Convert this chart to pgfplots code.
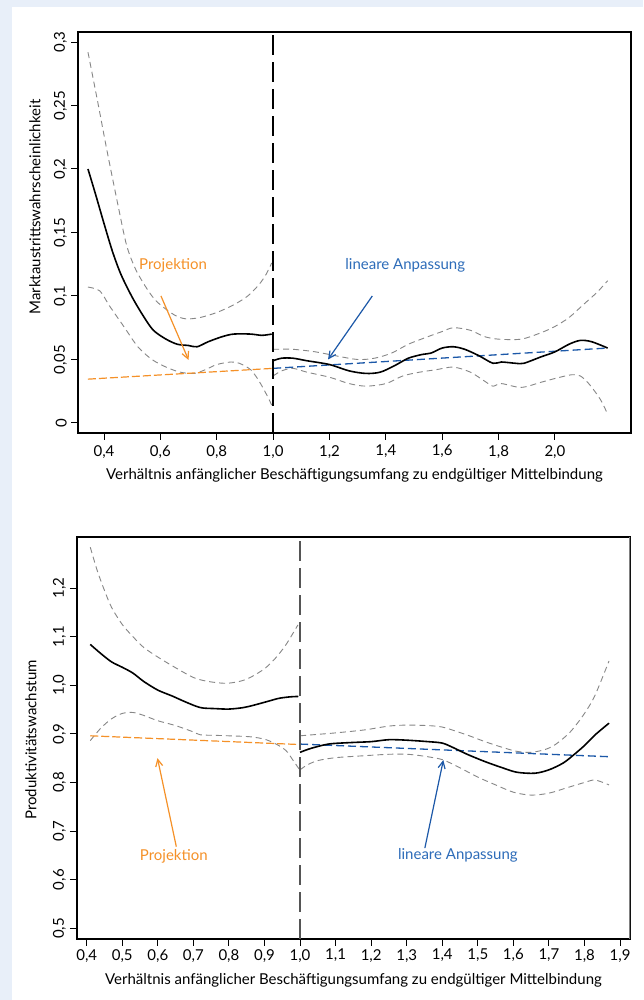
\documentclass[border=0pt]{standalone}
\usepackage{fontspec}
\setmainfont{Lato}
\usepackage{pgfplots}
\pgfplotsset{compat=1.18}
\usetikzlibrary{arrows.meta}
\definecolor{bgblue}{RGB}{232,239,249}
\definecolor{ciGray}{RGB}{135,135,135}
\definecolor{projOrange}{RGB}{245,145,40}
\definecolor{fitBlue}{RGB}{28,88,168}
\definecolor{labBlue}{RGB}{45,108,185}
\definecolor{vGray}{RGB}{85,85,85}
\newcommand{\cf}{\fontsize{15}{18}\selectfont}
\pgfplotsset{
  base/.style={
    scale only axis, width=553pt, height=401pt,
    axis line style={line width=1.4pt},
    tick align=outside, major tick length=7pt,
    tick style={black, line width=1pt},
    xtick pos=bottom, ytick pos=left,
    /pgf/number format/assume math mode=true,
    /pgf/number format/use comma,
    /pgf/number format/1000 sep={},
    tick label style={font=\cf},
    yticklabel style={rotate=90, anchor=south, inner sep=0pt},
    xticklabel style={anchor=north, inner sep=0pt},
    yticklabel shift=4pt, xticklabel shift=5pt,
    no markers,
  },
  mainline/.style={black, line width=1.6pt, smooth},
  ci/.style={ciGray, line width=0.9pt, dash pattern=on 6pt off 4pt, smooth},
  proj/.style={projOrange, line width=1.2pt, dash pattern=on 8pt off 3pt},
  fit/.style={fitBlue, line width=1.3pt, dash pattern=on 8pt off 4pt},
}
\begin{document}
\begin{tikzpicture}[x=1pt,y=1pt]
\path[use as bounding box] (0,0) rectangle (643,1000);
\fill[bgblue] (0,0) rectangle (643,1000);
\fill[white] (12,0) rectangle (643,993);

% ---------------- top panel ----------------
\begin{axis}[base, at={(78pt,567pt)}, anchor=south west,
  xmin=0.3076, xmax=2.27, ymin=-0.0079, ymax=0.3079,
  xtick={0.4,0.6,0.8,1.0,1.2,1.4,1.6,1.8,2.0},
  xticklabel style={/pgf/number format/fixed, /pgf/number format/fixed zerofill, /pgf/number format/precision=1},
  ytick={0,0.05,0.1,0.15,0.2,0.25,0.3},
  yticklabel style={/pgf/number format/fixed, /pgf/number format/precision=2},
  xlabel={Verhältnis anfänglicher Beschäftigungsumfang zu endgültiger Mittelbindung},
  ylabel={Marktaustrittswahrscheinlichkeit},
  every axis x label/.style={at={(axis description cs:0.5,-0.1172)}, anchor=base, font=\cf},
  every axis y label/.style={at={(axis description cs:-0.0778,0.5636)}, rotate=90, anchor=center, font=\cf},
]
% CI left
\addplot[ci] coordinates {(0.343,0.292)(0.38,0.250)(0.41,0.215)(0.45,0.171)(0.48,0.140)(0.51,0.122)(0.54,0.110)(0.57,0.100)(0.60,0.093)(0.65,0.085)(0.69,0.082)(0.74,0.083)(0.80,0.087)(0.86,0.093)(0.91,0.100)(0.95,0.109)(0.975,0.117)(0.995,0.126)};
\addplot[ci] coordinates {(0.343,0.107)(0.385,0.104)(0.42,0.092)(0.47,0.076)(0.52,0.060)(0.57,0.050)(0.62,0.044)(0.67,0.040)(0.72,0.039)(0.76,0.042)(0.80,0.046)(0.85,0.048)(0.88,0.047)(0.92,0.042)(0.95,0.033)(0.98,0.021)(0.995,0.014)};
% CI right
\addplot[ci] coordinates {(1.00,0.058)(1.07,0.058)(1.15,0.056)(1.22,0.053)(1.30,0.050)(1.36,0.051)(1.42,0.055)(1.48,0.062)(1.55,0.068)(1.60,0.072)(1.64,0.075)(1.70,0.073)(1.75,0.068)(1.80,0.066)(1.88,0.066)(1.95,0.071)(2.00,0.076)(2.05,0.083)(2.10,0.093)(2.15,0.103)(2.187,0.112)};
\addplot[ci] coordinates {(1.00,0.037)(1.03,0.041)(1.07,0.043)(1.12,0.040)(1.20,0.036)(1.27,0.031)(1.33,0.029)(1.40,0.031)(1.46,0.037)(1.52,0.040)(1.58,0.042)(1.64,0.044)(1.70,0.040)(1.75,0.033)(1.78,0.029)(1.81,0.031)(1.88,0.028)(1.95,0.032)(2.00,0.035)(2.06,0.038)(2.09,0.037)(2.12,0.031)(2.16,0.019)(2.187,0.007)};
% projection and linear fit
\addplot[proj] coordinates {(0.343,0.0345)(1.0,0.043)};
\addplot[fit] coordinates {(1.0,0.043)(2.187,0.059)};
% estimates
\addplot[mainline] coordinates {(0.343,0.200)(0.37,0.180)(0.40,0.157)(0.43,0.135)(0.46,0.117)(0.50,0.099)(0.54,0.084)(0.575,0.073)(0.62,0.066)(0.66,0.062)(0.70,0.061)(0.73,0.060)(0.77,0.064)(0.82,0.068)(0.86,0.070)(0.92,0.070)(0.96,0.069)(0.995,0.070)};
\addplot[mainline] coordinates {(1.00,0.049)(1.03,0.051)(1.07,0.051)(1.12,0.049)(1.20,0.046)(1.27,0.041)(1.33,0.039)(1.38,0.040)(1.43,0.045)(1.48,0.051)(1.53,0.054)(1.56,0.055)(1.60,0.059)(1.64,0.060)(1.68,0.058)(1.73,0.053)(1.78,0.047)(1.81,0.048)(1.86,0.047)(1.89,0.047)(1.95,0.052)(2.00,0.056)(2.05,0.062)(2.09,0.065)(2.13,0.064)(2.187,0.059)};
% threshold
\addplot[black, line width=1.8pt, dash pattern=on 20pt off 7pt] coordinates {(1.0,-0.0079)(1.0,0.3079)};
% annotations
\draw[projOrange, line width=1.2pt, -{Straight Barb[length=7pt,width=7pt]}] (axis cs:0.602,0.100) -- (axis cs:0.70,0.0496);
\draw[fitBlue, line width=1.2pt, -{Straight Barb[length=7pt,width=7pt]}] (axis cs:1.352,0.100) -- (axis cs:1.195,0.050);
\node[font=\cf, text=projOrange, anchor=center] at (axis cs:0.645,0.1244) {Projektion};
\node[font=\cf, text=labBlue, anchor=center] at (axis cs:1.469,0.1244) {lineare Anpassung};
\end{axis}

% ---------------- bottom panel ----------------
\begin{axis}[base, at={(77pt,61pt)}, anchor=south west, height=402pt,
  xmin=0.3727, xmax=1.928, ymin=0.478, ymax=1.305,
  xtick={0.4,0.5,0.6,0.7,0.8,0.9,1.0,1.1,1.2,1.3,1.4,1.5,1.6,1.7,1.8,1.9},
  xticklabel style={/pgf/number format/fixed, /pgf/number format/fixed zerofill, /pgf/number format/precision=1},
  ytick={0.5,0.6,0.7,0.8,0.9,1.0,1.1,1.2},
  yticklabel style={/pgf/number format/fixed, /pgf/number format/fixed zerofill, /pgf/number format/precision=1},
  xticklabel shift=3pt,
  xlabel={Verhältnis anfänglicher Beschäftigungsumfang zu endgültiger Mittelbindung},
  ylabel={Produktivitätswachstum},
  every axis x label/.style={at={(axis description cs:0.5,-0.1144)}, anchor=base, font=\cf},
  every axis y label/.style={at={(axis description cs:-0.0832,0.495)}, rotate=90, anchor=center, font=\cf},
]
% CI left
\addplot[ci] coordinates {(0.41,1.284)(0.43,1.235)(0.45,1.195)(0.47,1.160)(0.50,1.125)(0.53,1.100)(0.56,1.078)(0.60,1.058)(0.65,1.036)(0.70,1.016)(0.74,1.008)(0.79,1.004)(0.83,1.008)(0.86,1.016)(0.90,1.034)(0.93,1.055)(0.96,1.083)(0.994,1.124)};
\addplot[ci] coordinates {(0.41,0.886)(0.44,0.912)(0.47,0.931)(0.50,0.942)(0.53,0.944)(0.56,0.938)(0.60,0.927)(0.65,0.917)(0.70,0.904)(0.72,0.898)(0.76,0.897)(0.80,0.896)(0.86,0.894)(0.90,0.889)(0.93,0.880)(0.96,0.866)(0.98,0.846)(0.997,0.828)};
% CI right
\addplot[ci] coordinates {(1.00,0.896)(1.05,0.899)(1.10,0.902)(1.18,0.908)(1.25,0.916)(1.30,0.918)(1.36,0.917)(1.40,0.914)(1.44,0.905)(1.48,0.895)(1.52,0.884)(1.57,0.872)(1.61,0.864)(1.65,0.862)(1.69,0.868)(1.72,0.879)(1.76,0.904)(1.80,0.942)(1.83,0.980)(1.869,1.050)};
\addplot[ci] coordinates {(1.00,0.826)(1.02,0.836)(1.05,0.845)(1.10,0.851)(1.18,0.855)(1.25,0.858)(1.30,0.858)(1.34,0.855)(1.40,0.847)(1.45,0.830)(1.50,0.811)(1.55,0.795)(1.60,0.780)(1.65,0.774)(1.70,0.778)(1.75,0.789)(1.80,0.800)(1.83,0.805)(1.869,0.795)};
% projection and linear fit
\addplot[proj] coordinates {(0.41,0.896)(1.0,0.878)};
\addplot[fit] coordinates {(1.0,0.879)(1.869,0.853)};
% estimates
\addplot[mainline] coordinates {(0.41,1.084)(0.44,1.065)(0.47,1.048)(0.50,1.037)(0.53,1.025)(0.56,1.008)(0.60,0.990)(0.64,0.978)(0.68,0.965)(0.72,0.954)(0.76,0.952)(0.80,0.951)(0.84,0.954)(0.87,0.959)(0.91,0.967)(0.94,0.973)(0.97,0.976)(0.995,0.977)};
\addplot[mainline] coordinates {(1.00,0.862)(1.03,0.870)(1.08,0.879)(1.14,0.882)(1.20,0.884)(1.25,0.888)(1.30,0.887)(1.36,0.884)(1.40,0.881)(1.43,0.872)(1.47,0.858)(1.52,0.843)(1.57,0.830)(1.61,0.821)(1.66,0.819)(1.70,0.826)(1.74,0.840)(1.77,0.857)(1.80,0.876)(1.83,0.898)(1.869,0.922)};
% threshold
\addplot[vGray, line width=2.2pt, dash pattern=on 20pt off 7pt] coordinates {(1.0,0.478)(1.0,1.305)};
% annotations
\draw[projOrange, line width=1.2pt, -{Straight Barb[length=7pt,width=7pt]}] (axis cs:0.652,0.668) -- (axis cs:0.599,0.850);
\draw[fitBlue, line width=1.2pt, -{Straight Barb[length=7pt,width=7pt]}] (axis cs:1.351,0.665) -- (axis cs:1.403,0.846);
\node[font=\cf, text=projOrange, anchor=center] at (axis cs:0.645,0.649) {Projektion};
\node[font=\cf, text=labBlue, anchor=center] at (axis cs:1.444,0.651) {lineare Anpassung};
\draw[gray, line width=1.4pt] (rel axis cs:1,0) -- (rel axis cs:1,1);
\end{axis}
\end{tikzpicture}
\end{document}
